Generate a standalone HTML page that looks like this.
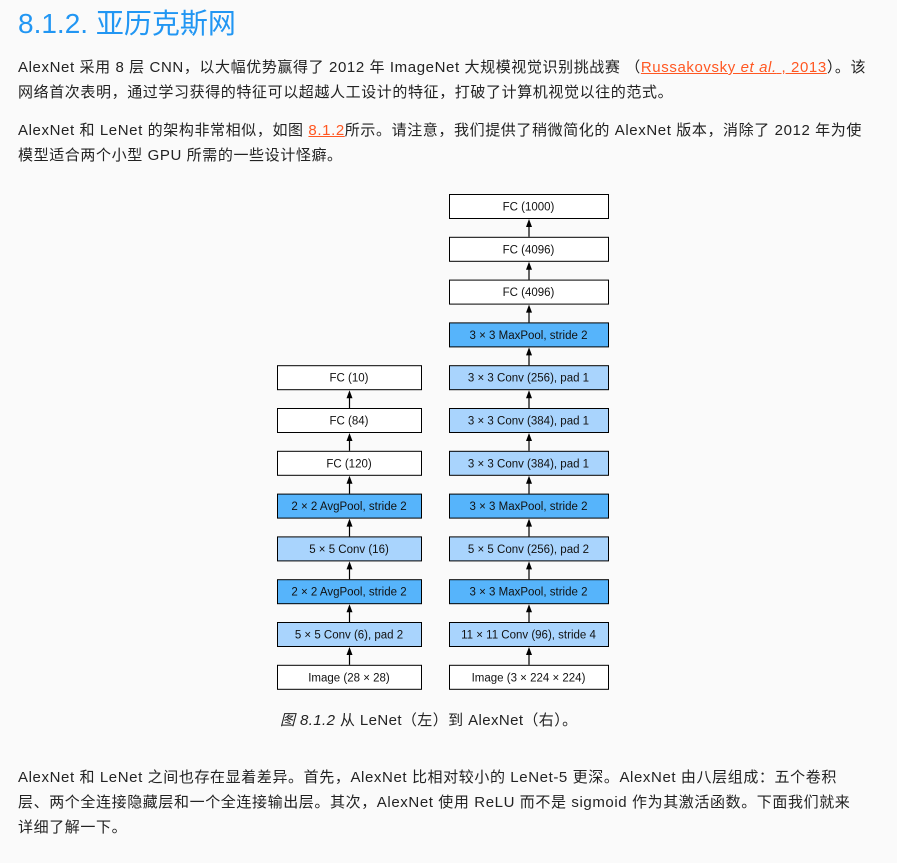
<!DOCTYPE html>
<html><head><meta charset="utf-8"><style>
body{margin:0;background:#fafafa;width:897px;height:863px;position:relative;overflow:hidden;font-family:"Liberation Sans","Noto Sans CJK SC",sans-serif;color:#222;}
.l{position:absolute;left:18px;font-size:15px;white-space:nowrap;line-height:20px;letter-spacing:0.6px;}
h1{position:absolute;left:18px;top:4px;margin:0;font-weight:normal;font-size:28px;color:#2196f3;line-height:40px;}
a{color:#ff5722;text-decoration:underline;}
.cap{position:absolute;top:709px;left:280px;font-size:15px;white-space:nowrap;letter-spacing:0.4px;}
</style></head><body>
<h1>8.1.2. 亚历克斯网</h1>
<div class="l" style="top:58px">AlexNet 采用 8 层 CNN，以大幅优势赢得了 2012 年 ImageNet 大规模视觉识别挑战赛 （<a>Russakovsky <i>et al.</i> , 2013</a>）。该</div>
<div class="l" style="top:83px">网络首次表明，通过学习获得的特征可以超越人工设计的特征，打破了计算机视觉以往的范式。</div>
<div class="l" style="top:121px">AlexNet 和 LeNet 的架构非常相似，如图 <a>8.1.2</a>所示。请注意，我们提供了稍微简化的 AlexNet 版本，消除了 2012 年为使</div>
<div class="l" style="top:146px">模型适合两个小型 GPU 所需的一些设计怪癖。</div>
<svg style="position:absolute;left:0;top:0" width="897" height="863" font-family="Liberation Sans, sans-serif" font-size="11.5">
<g id="boxes"></g>
</svg>
<div class="cap"><i>图 8.1.2</i> 从 LeNet（左）到 AlexNet（右）。</div>
<div class="l" style="top:768px">AlexNet 和 LeNet 之间也存在显着差异。首先，AlexNet 比相对较小的 LeNet-5 更深。AlexNet 由八层组成：五个卷积</div>
<div class="l" style="top:793px">层、两个全连接隐藏层和一个全连接输出层。其次，AlexNet 使用 ReLU 而不是 sigmoid 作为其激活函数。下面我们就来</div>
<div class="l" style="top:818px">详细了解一下。</div>
<script>
var W="#fff",D="#56b4fb",L="#a9d4fd";
var right=[["FC (1000)",W],["FC (4096)",W],["FC (4096)",W],["3 × 3 MaxPool, stride 2",D],["3 × 3 Conv (256), pad 1",L],["3 × 3 Conv (384), pad 1",L],["3 × 3 Conv (384), pad 1",L],["3 × 3 MaxPool, stride 2",D],["5 × 5 Conv (256), pad 2",L],["3 × 3 MaxPool, stride 2",D],["11 × 11 Conv (96), stride 4",L],["Image (3 × 224 × 224)",W]];
var left=[["FC (10)",W],["FC (84)",W],["FC (120)",W],["2 × 2 AvgPool, stride 2",D],["5 × 5 Conv (16)",L],["2 × 2 AvgPool, stride 2",D],["5 × 5 Conv (6), pad 2",L],["Image (28 × 28)",W]];
var g=document.getElementById("boxes"),s="";
function col(arr,x,w,start){for(var i=0;i<arr.length;i++){var y=194+(start+i)*42.8;
s+='<rect x="'+(x+.5)+'" y="'+(y+.5)+'" width="'+w+'" height="24" fill="'+arr[i][1]+'" stroke="#000" stroke-width="1"/>';
s+='<text x="'+(x+w/2)+'" y="'+(y+16.5)+'" text-anchor="middle" fill="#111">'+arr[i][0]+'</text>';
if(i<arr.length-1){var cx=x+w/2+0.5,yt=y+25;s+='<line x1="'+cx+'" y1="'+(y+42.8)+'" x2="'+cx+'" y2="'+(yt+5)+'" stroke="#000" stroke-width="1.2"/>';
s+='<path d="M'+(cx-3)+','+(yt+8)+' L'+cx+','+yt+' L'+(cx+3)+','+(yt+8)+'z" fill="#000"/>';}}}
col(right,449,159,0);col(left,277,144,4);
g.innerHTML=s;
</script>
</body></html>
